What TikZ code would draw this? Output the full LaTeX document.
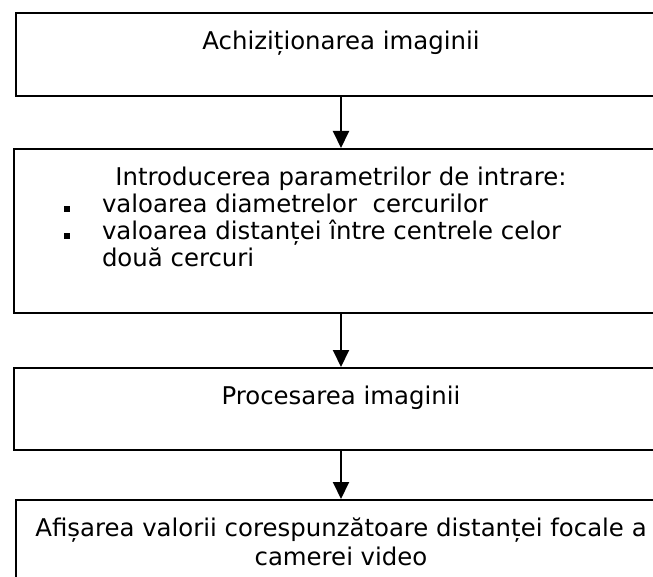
\documentclass[tikz,border=0pt]{standalone}
\usepackage{fontspec}
\setmainfont{DejaVu Sans}
\usetikzlibrary{arrows.meta}

\tikzset{
  stepbox/.style={draw, line width=2pt, inner sep=0pt, anchor=north west,
    font=\fontsize{24.4pt}{27pt}\selectfont},
  flow/.style={line width=2pt, -{Triangle[width=16pt,length=17pt]}}
}

\begin{document}
\begin{tikzpicture}[x=1pt, y=-1pt]
  \useasboundingbox (0,0) rectangle (653,577);
  \clip (0,0) rectangle (653,577);

  % 1. The four steps (boxes run past the right and bottom edge)
  \node[stepbox] (acq) at (15,12)
    {\parbox[c][83pt][t]{650pt}{\centering\vspace*{18pt}Achiziționarea imaginii}};
  \node[stepbox] (params) at (13,148)
    {\parbox[c][164pt][t]{654pt}{\vspace*{18pt}%
      {\centering Introducerea parametrilor de intrare:\par}
      \raggedright\leftskip=88pt
      \leavevmode\llap{\rule[1pt]{6pt}{6pt}\hspace{32pt}}valoarea diametrelor\ \ cercurilor\par
      \leavevmode\llap{\rule[1pt]{6pt}{6pt}\hspace{32pt}}valoarea distanței între centrele celor\\
      două cercuri\par}};
  \node[stepbox] (proc) at (12.5,367)
    {\parbox[c][82pt][t]{655pt}{\centering\vspace*{18pt}Procesarea imaginii}};
  \node[stepbox, font=\fontsize{24.4pt}{29pt}\selectfont] (disp) at (15,499)
    {\parbox[c][100pt][t]{650pt}{\centering\vspace*{18pt}Afișarea valorii corespunzătoare distanței focale a\\
      camerei video}};

  % 2. Arrows between the steps
  \draw[flow] (acq.south) -- (params.north);
  \draw[flow] (params.south) -- (proc.north);
  \draw[flow] (proc.south) -- (disp.north);
\end{tikzpicture}
\end{document}
